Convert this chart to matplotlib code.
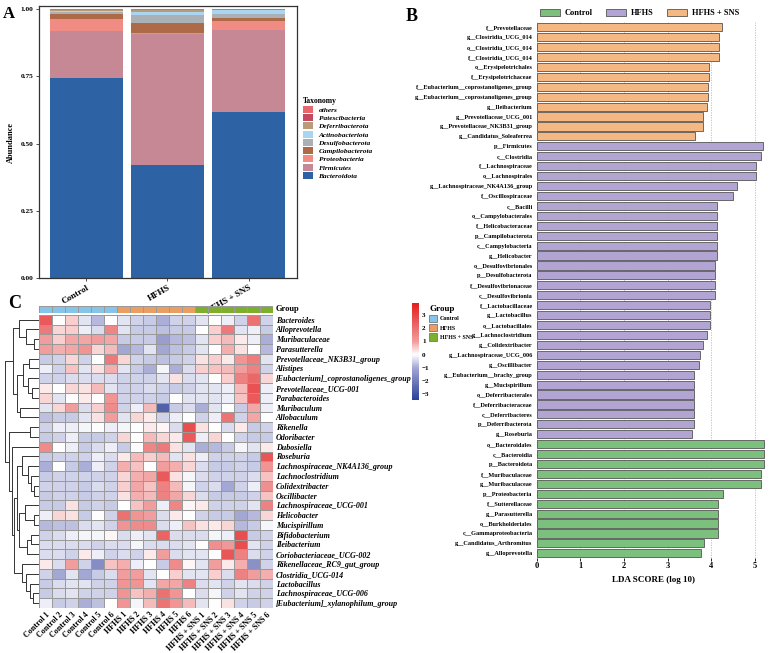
import numpy as np
import matplotlib
matplotlib.use('Agg')
import matplotlib.pyplot as plt
from matplotlib.colors import LinearSegmentedColormap, ListedColormap, Normalize
from matplotlib.patches import Patch
from matplotlib.cm import ScalarMappable

plt.rcParams['font.family'] = ['Liberation Serif', 'DejaVu Serif']
plt.rcParams['font.weight'] = 'bold'

# ---------------- panel A : phylum composition ----------------
groups = ['Control', 'HFHS', 'HFHS + SNS']
phyla = ['Bacteroidota', 'Firmicutes', 'Proteobacteria', 'Campilobacterota',
         'Desulfobacterota', 'Actinobacteriota', 'Deferribacterota',
         'Patescibacteria', 'others']
phyla_colors = ['#2D63A5', '#C58894', '#F18C84', '#AE6A47', '#A9B1B6',
                '#A9D5F1', '#B99A7B', '#C54A61', '#E8676D']
abund_control = [0.743, 0.174, 0.046, 0.020, 0.005, 0.006, 0.002, 0.001, 0.003]
abund_hfhs = [0.419, 0.487, 0.007, 0.037, 0.029, 0.009, 0.009, 0.001, 0.002]
abund_sns = [0.616, 0.308, 0.033, 0.010, 0.016, 0.012, 0.002, 0.001, 0.002]

# ---------------- panel B : LEfSe ----------------
lda_labels = [
    'f__Prevotellaceae', 'g__Clostridia_UCG_014', 'o__Clostridia_UCG_014',
    'f__Clostridia_UCG_014', 'o__Erysipelotrichales', 'f__Erysipelotrichaceae',
    'f__Eubacterium__coprostanoligenes_group', 'g__Eubacterium__coprostanoligenes_group',
    'g__Ileibacterium', 'g__Prevotellaceae_UCG_001', 'g__Prevotellaceae_NK3B31_group',
    'g__Candidatus_Soleaferrea',
    'p__Firmicutes', 'c__Clostridia', 'f__Lachnospiraceae', 'o__Lachnospirales',
    'g__Lachnospiraceae_NK4A136_group', 'f__Oscillospiraceae', 'c__Bacilli',
    'o__Campylobacterales', 'f__Helicobacteraceae', 'p__Campilobacterota',
    'c__Campylobacteria', 'g__Helicobacter', 'o__Desulfovibrionales',
    'p__Desulfobacterota', 'f__Desulfovibrionaceae', 'c__Desulfovibrionia',
    'f__Lactobacillaceae', 'g__Lactobacillus', 'o__Lactobacillales',
    'g__Lachnoclostridium', 'g__Colidextribacter', 'g__Lachnospiraceae_UCG_006',
    'g__Oscillibacter', 'g__Eubacterium__brachy_group', 'g__Mucispirillum',
    'o__Deferribacterales', 'f__Deferribacteraceae', 'c__Deferribacteres',
    'p__Deferribacterota', 'g__Roseburia',
    'o__Bacteroidales', 'c__Bacteroidia', 'p__Bacteroidota', 'f__Muribaculaceae',
    'g__Muribaculaceae', 'p__Proteobacteria', 'f__Sutterellaceae',
    'g__Parasutterella', 'o__Burkholderiales', 'c__Gammaproteobacteria',
    'g__Candidatus_Arthromitus', 'g__Alloprevotella']
lda_scores = [
    4.25, 4.18, 4.18, 4.18, 3.95, 3.95, 3.93, 3.93, 3.89, 3.82, 3.80, 3.62,
    5.18, 5.13, 5.02, 5.02, 4.58, 4.49, 4.14, 4.12, 4.12, 4.12, 4.12, 4.12,
    4.08, 4.08, 4.08, 4.08, 3.97, 3.97, 3.96, 3.89, 3.82, 3.75, 3.72, 3.60,
    3.60, 3.60, 3.60, 3.60, 3.60, 3.56,
    5.21, 5.21, 5.21, 5.15, 5.14, 4.27, 4.16, 4.16, 4.16, 4.16, 3.84, 3.76]
lda_groups = ['HFHS + SNS'] * 12 + ['HFHS'] * 30 + ['Control'] * 12
lda_colors = {'Control': '#7CC07E', 'HFHS': '#B3A5D3', 'HFHS + SNS': '#F6B882'}

# ---------------- panel C : heatmap ----------------
genera = ['Bacteroides', 'Alloprevotella', 'Muribaculaceae', 'Parasutterella',
          'Prevotellaceae_NK3B31_group', 'Alistipes',
          '[Eubacterium]_coprostanoligenes_group', 'Prevotellaceae_UCG-001',
          'Parabacteroides', 'Muribaculum', 'Allobaculum', 'Rikenella',
          'Odoribacter', 'Dubosiella', 'Roseburia', 'Lachnospiraceae_NK4A136_group',
          'Lachnoclostridium', 'Colidextribacter', 'Oscillibacter',
          'Lachnospiraceae_UCG-001', 'Helicobacter', 'Mucispirillum',
          'Bifidobacterium', 'Ileibacterium', 'Coriobacteriaceae_UCG-002',
          'Rikenellaceae_RC9_gut_group', 'Clostridia_UCG-014', 'Lactobacillus',
          'Lachnospiraceae_UCG-006', '[Eubacterium]_xylanophilum_group']
samples = ['Control 1', 'Control 2', 'Control 3', 'Control 4', 'Control 5', 'Control 6',
           'HFHS 1', 'HFHS 2', 'HFHS 3', 'HFHS 4', 'HFHS 5', 'HFHS 6',
           'HFHS + SNS 1', 'HFHS + SNS 2', 'HFHS + SNS 3', 'HFHS + SNS 4',
           'HFHS + SNS 5', 'HFHS + SNS 6']
sample_group = [0] * 6 + [1] * 6 + [2] * 6
group_colors = ['#86C5EA', '#EB9E62', '#7DAE2C']

zscore = np.array([
    [2.5, 0.0, 0.5, -0.3, -0.8, 0.0, -0.3, -0.5, -0.6, -0.9, -0.5, -0.5, -0.3, 0.0, -0.2, -0.5, 2.0, -0.5],
    [1.8, 0.4, 0.5, -0.2, -0.4, 1.5, -0.3, -0.6, -0.6, -0.7, -0.6, -0.6, 0.0, 0.5, 1.8, -0.3, -0.2, -0.6],
    [1.0, 0.5, 0.9, 0.9, 1.0, 0.9, -0.6, -0.6, -0.6, -1.2, -0.8, -0.7, -0.3, 0.5, 0.7, 0.2, -0.2, -0.9],
    [1.0, 0.8, 0.9, 1.2, 0.4, 0.7, -1.0, -0.8, -0.3, -1.0, -0.7, -0.6, -0.3, 0.0, 0.8, 0.3, 0.0, -0.8],
    [-0.6, -0.5, 0.4, -0.5, 0.0, 1.8, 0.4, -0.5, -0.6, -0.7, -0.6, -0.5, 0.3, 0.5, 0.2, 1.2, 1.7, -0.3],
    [-0.2, -0.5, 0.6, -0.3, 0.3, 0.8, -0.3, -0.6, -0.9, -0.1, -0.9, -0.4, 0.5, 0.6, 0.7, 1.0, 1.6, -0.5],
    [-0.5, -0.5, -0.4, -0.4, -0.4, -0.4, -0.5, -0.5, -0.5, -0.3, 0.3, -0.4, -0.3, 0.0, 0.5, 1.6, 2.2, 0.4],
    [0.2, 0.0, 0.4, 0.3, 0.7, -0.3, -0.5, -0.5, -0.4, -0.5, -0.6, -0.5, -0.3, -0.3, -0.2, 0.7, 2.7, -0.2],
    [0.4, -0.3, 0.0, 0.2, 0.0, 1.2, -0.5, -0.5, -0.5, -0.6, 0.0, -0.3, -0.3, -0.3, -0.2, 0.6, 2.5, -0.2],
    [-0.3, 0.4, 1.0, -0.4, 0.5, 1.4, -0.5, -0.2, 0.7, -2.6, -0.6, -0.4, -0.9, -0.3, 0.0, -0.6, 0.9, -0.2],
    [-0.7, -0.6, -0.6, -0.3, 0.3, 1.0, -0.3, 0.4, 0.2, -0.5, -0.2, 0.0, -0.5, -0.2, 1.9, -0.5, 0.9, 0.0],
    [-0.5, -0.2, -0.2, -0.1, 0.0, -0.2, -0.1, 0.0, 0.2, 0.1, -0.4, 2.8, 0.3, 0.0, -0.4, 0.2, -0.6, -0.5],
    [-0.6, -0.5, -0.2, -0.6, -0.6, -0.5, 0.4, 0.0, 0.7, 0.4, 0.2, 2.5, -0.2, 0.4, 0.0, -0.5, -0.6, -0.6],
    [1.4, 0.0, -0.2, -0.6, -0.4, -0.2, -0.6, 0.0, 1.5, 1.8, 0.3, -0.3, -0.9, -0.8, -0.6, -0.1, -0.3, 0.2],
    [-0.6, -0.5, -0.5, -0.5, -0.2, -0.4, 0.2, 0.7, 0.5, 0.7, -0.3, 0.3, -0.2, -0.5, -0.5, -0.5, -0.6, 2.6],
    [-0.9, 0.0, -0.6, -0.9, -0.2, -0.5, 0.8, 0.6, 0.0, 1.0, 0.8, 0.4, -0.4, -0.6, -0.6, -0.5, -0.6, 1.2],
    [-0.6, -0.5, -0.5, -0.5, -0.5, -0.5, 0.4, 0.8, 0.9, 2.5, 0.3, -0.1, -0.4, -0.5, -0.5, -0.5, -0.4, 0.6],
    [-0.5, -0.5, -0.5, -0.6, -0.4, -0.5, 0.5, 0.9, 0.6, 1.6, 0.7, -0.1, -0.5, -0.4, -1.0, -0.5, -0.2, 1.3],
    [-0.6, -0.5, -0.5, -0.6, -0.5, -0.5, 0.3, 0.8, 0.7, 1.6, 0.9, 0.4, -0.4, -0.6, -0.6, -0.6, -0.5, 0.6],
    [-0.6, -0.6, 0.3, -0.6, -0.5, -0.6, 0.0, 0.6, 1.0, -0.2, 1.5, 0.1, 0.2, -0.5, -0.5, -0.5, -0.3, 1.6],
    [-0.2, 0.4, 0.3, -0.6, 0.0, -0.5, 2.0, 1.2, 1.0, -0.4, 0.2, 0.0, -0.5, -0.6, -0.6, -1.0, -0.8, 0.4],
    [-0.8, -0.7, -0.7, -0.4, -0.3, -0.5, 1.2, 1.4, 1.4, -0.4, -0.2, 0.6, 0.3, 0.2, 0.4, -0.8, -0.6, -0.1],
    [-0.5, -0.4, -0.2, -0.1, -0.1, 0.1, -0.4, -0.2, -0.3, 2.3, -0.4, -0.4, -0.4, -0.1, -0.2, 2.8, -0.6, -0.5],
    [-0.4, -0.4, -0.4, -0.4, -0.5, -0.4, -0.4, -0.1, -0.4, -0.4, -0.4, -0.3, 0.0, 1.3, 1.1, 2.8, -0.3, -0.5],
    [-0.4, -0.4, -0.5, 0.2, -0.2, -0.5, -0.4, -0.5, 0.2, 1.0, -0.4, -0.3, -0.3, 0.0, 2.6, 1.6, -0.4, -0.5],
    [0.2, -0.4, 1.0, -0.5, -1.6, 0.6, 0.8, -0.2, 0.0, -0.6, 1.4, 0.1, -0.3, 1.0, 0.2, 0.8, -1.5, -0.5],
    [-0.5, -1.0, -0.3, -1.0, -0.6, -0.4, 1.0, 1.0, -0.3, 0.0, 0.5, -0.3, -0.3, 0.5, -0.4, 1.6, 1.0, 0.8],
    [-0.6, -0.4, -0.3, -0.3, -0.5, -0.5, 1.2, 1.2, -0.3, 0.9, 0.9, 1.6, -0.4, -0.3, -0.5, -0.3, -0.4, -0.5],
    [-0.6, -0.4, -0.3, -0.5, -0.5, -0.5, 1.2, 0.6, 0.8, 2.0, 1.2, 0.0, -0.4, -0.1, -0.5, -0.3, -0.5, -0.5],
    [-0.2, -0.6, -0.5, -0.9, -0.7, 0.0, 1.2, -0.1, 0.7, 1.9, 1.2, 0.7, -0.3, 0.0, 0.3, -0.5, -0.6, -0.5],
])

# row dendrogram as (left, right, merge height), leaves are row indices
top_block = (((0, (1, (2, 3, 0.5), 1.3), 2.0)),
             (((4, 5, 1.0), (6, (7, 8, 0.7), 1.1), 1.6), (9, 10, 1.9), 2.2), 2.6)
firm_block = (14, (15, (16, (17, 18, 0.5), 0.8), 1.1), 1.7)
heli_block = ((19, (20, 21, 0.5), 1.4), ((22, 23, 0.8), 24, 1.2), 2.0)
lacto_block = (25, (26, (27, (28, 29, 0.6), 0.9), 1.3), 1.7)
bottom_block = ((11, 12, 0.9), (13, ((firm_block, heli_block, 2.2), lacto_block, 2.5), 2.8), 3.1)
row_tree = (top_block, bottom_block, 3.5)


fig = plt.figure(figsize=(7.78, 6.53), dpi=100)

# ======== A ========
axA = fig.add_axes([0.050, 0.574, 0.332, 0.417])
bottom = np.zeros(3)
stack = np.array([abund_control, abund_hfhs, abund_sns])
for k, name in enumerate(phyla):
    axA.bar(np.arange(3), stack[:, k], 0.9, bottom=bottom, color=phyla_colors[k],
            label=name, linewidth=0)
    bottom += stack[:, k]
axA.set_xlim(-0.586, 2.6)
axA.set_ylim(0, 1.012)
axA.set_yticks([0, 0.25, 0.5, 0.75, 1.0])
axA.set_yticklabels(['0.00', '0.25', '0.50', '0.75', '1.00'], fontsize=5.3)
axA.set_xticks(np.arange(3))
axA.set_xticklabels(groups, rotation=30, ha='right', rotation_mode='anchor', fontsize=6.5)
axA.set_ylabel('Abundance', fontsize=6, fontweight='bold', labelpad=4)
axA.tick_params(length=2, width=0.6, color='#333333', pad=2)
for s in axA.spines.values():
    s.set_color('#333333')
    s.set_linewidth(0.9)
handles, labels = axA.get_legend_handles_labels()
legA = fig.legend(handles[::-1], labels[::-1], title='Taxonomy', loc='upper left',
                  bbox_to_anchor=(0.381, 0.862), frameon=False,
                  prop={'size': 5.3, 'style': 'italic', 'weight': 'bold'},
                  handlelength=1.4, handleheight=1.1, labelspacing=0.16,
                  handletextpad=0.7)
legA.get_title().set_fontsize(5.5)
legA.get_title().set_fontweight('bold')
legA._legend_box.align = 'left'

# ======== B ========
axB = fig.add_axes([0.690, 0.145, 0.300, 0.821])
ypos = np.arange(len(lda_labels))
axB.barh(ypos, lda_scores, height=0.82,
         color=[lda_colors[g] for g in lda_groups], edgecolor='#555555', linewidth=0.6,
         zorder=3)
axB.set_ylim(len(lda_labels) - 0.5, -0.5)
axB.set_xlim(0, 5.35)
axB.set_yticks(ypos)
axB.set_yticklabels(lda_labels, fontsize=4.5)
axB.set_xticks(range(6))
axB.set_xticklabels([str(i) for i in range(6)], fontsize=6)
axB.tick_params(axis='y', length=0, pad=3)
axB.tick_params(axis='x', length=2, width=0.6, pad=1)
axB.grid(axis='x', linestyle=(0, (1.5, 1.5)), color='#BBBBBB', linewidth=0.6, zorder=0)
for s in axB.spines.values():
    s.set_visible(False)
axB.set_xlabel('LDA SCORE (log 10)', fontsize=6.5, fontweight='bold', labelpad=4)
legB_handles = [Patch(facecolor=lda_colors[g], edgecolor='#555555', linewidth=0.6, label=g)
                for g in ['Control', 'HFHS', 'HFHS + SNS']]
fig.legend(handles=legB_handles, loc='upper left', bbox_to_anchor=(0.684, 0.998), ncol=3,
           frameon=False, fontsize=6, handlelength=2.4, handleheight=0.9,
           columnspacing=1.6, handletextpad=0.6)

# ======== C ========
vmin, vmax = -3.45, 3.9
key_values = [vmin, -1.0, 0.0, 1.0, vmax]
key_colors = ['#283F95', '#A3A7D4', '#FFFFFF', '#F19C9C', '#E31E1F']
cmap = LinearSegmentedColormap.from_list(
    'bwr_c', list(zip([(v - vmin) / (vmax - vmin) for v in key_values], key_colors)))
axC = fig.add_axes([0.050, 0.069, 0.301, 0.449])
axC.pcolormesh(zscore, cmap=cmap, norm=Normalize(vmin, vmax), edgecolors='#9A9A9A',
               linewidth=0.5)
axC.set_xlim(0, len(samples))
axC.set_ylim(len(genera), 0)
axC.yaxis.tick_right()
axC.set_yticks(np.arange(len(genera)) + 0.5)
axC.set_yticklabels(genera, fontsize=5.8, fontstyle='italic')
axC.set_xticks(np.arange(len(samples)) + 0.5)
axC.set_xticklabels(samples, rotation=45, ha='right', rotation_mode='anchor', fontsize=5.8)
axC.tick_params(length=0, pad=2)
for s in axC.spines.values():
    s.set_visible(False)

axG = fig.add_axes([0.050, 0.5207, 0.301, 0.0107])
axG.pcolormesh(np.array([sample_group]), cmap=ListedColormap(group_colors),
               vmin=-0.5, vmax=2.5, edgecolors='#9A9A9A', linewidth=0.5)
axG.set_xlim(0, len(samples))
axG.set_xticks([])
axG.set_yticks([])
for s in axG.spines.values():
    s.set_visible(False)
axG.text(1.01, 0.5, 'Group', transform=axG.transAxes, ha='left', va='center',
         fontsize=6, fontweight='bold')

axD = fig.add_axes([0.006, 0.069, 0.044, 0.449])


def draw_tree(node):
    if isinstance(node, int):
        return node + 0.5, 0.0
    left, right, h = node
    yl, hl = draw_tree(left)
    yr, hr = draw_tree(right)
    axD.plot([hl, h, h, hr], [yl, yl, yr, yr], color='#333333', linewidth=0.7)
    return (yl + yr) / 2, h


draw_tree(row_tree)
axD.set_xlim(row_tree[2], 0)
axD.set_ylim(len(genera), 0)
axD.axis('off')

# colour key + group legend
axK = fig.add_axes([0.530, 0.387, 0.009, 0.149])
cb = fig.colorbar(ScalarMappable(norm=Normalize(vmin, vmax), cmap=cmap), cax=axK,
                  ticks=[-3, -2, -1, 0, 1, 2, 3])
cb.outline.set_visible(False)
cb.ax.tick_params(length=0, labelsize=5, pad=2)

legC_handles = [Patch(facecolor=c, edgecolor='#777777', linewidth=0.6, label=g)
                for c, g in zip(group_colors, groups)]
legC = fig.legend(handles=legC_handles, title='Group', loc='upper left',
                  bbox_to_anchor=(0.545, 0.541), frameon=False, fontsize=4.3,
                  handlelength=1.3, handleheight=1.6, labelspacing=0.25,
                  handletextpad=0.4)
legC.get_title().set_fontsize(6.5)
legC.get_title().set_fontweight('bold')
legC._legend_box.align = 'left'

# panel letters
fig.text(0.004, 0.991, 'A', fontsize=12, fontweight='bold', va='top')
fig.text(0.521, 0.988, 'B', fontsize=13, fontweight='bold', va='top')
fig.text(0.010, 0.548, 'C', fontsize=13, fontweight='bold', va='top')

fig.savefig('out.png', dpi=100)
